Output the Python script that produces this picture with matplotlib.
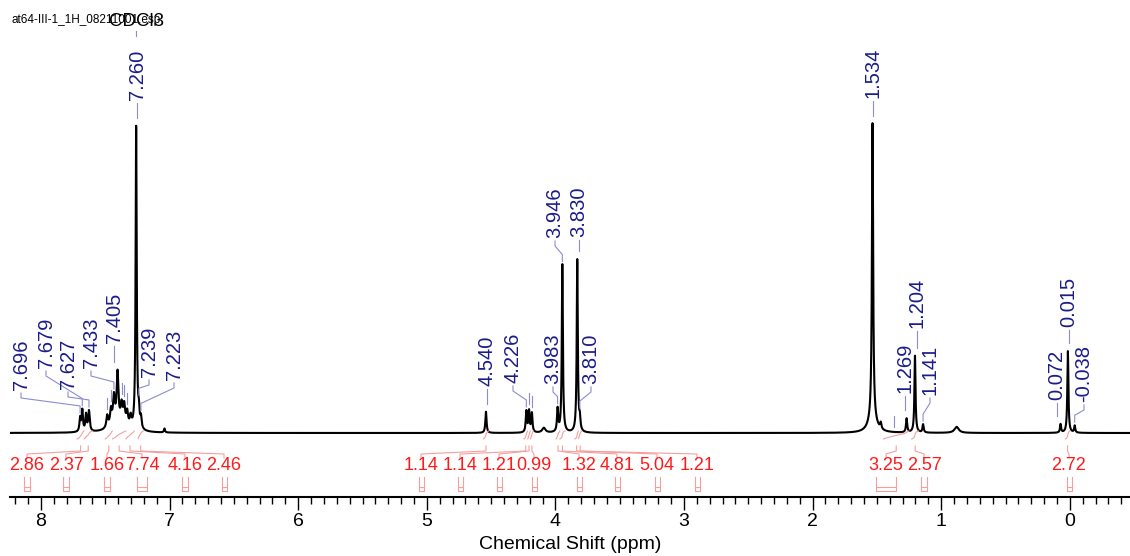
import numpy as np
import matplotlib
matplotlib.use('Agg')
import matplotlib.pyplot as plt

plt.rcParams['font.family'] = ['Liberation Sans', 'DejaVu Sans']

# ---- spectrum peaks ----
# position (ppm), height (% of tallest line), line width (ppm)
peak_ppm = [7.696, 7.679, 7.650, 7.627, 7.485, 7.456, 7.433, 7.405, 7.373, 7.353,
            7.330, 7.303, 7.400, 7.260, 7.239, 7.223, 7.040,
            4.540, 4.226, 4.205, 4.183, 4.090,
            3.983, 3.946, 3.830, 3.810,
            1.534, 1.534, 1.470, 1.269, 1.204, 1.141, 0.880,
            0.072, 0.015, -0.038]
peak_height = [4.5, 7.0, 5.5, 6.8, 4.0, 5.0, 8.5, 15.5, 5.5, 6.0,
               4.5, 3.5, 4.0, 100.0, 5.0, 3.5, 1.3,
               7.0, 7.0, 7.0, 6.3, 1.6,
               7.6, 55.5, 57.0, 3.8,
               98.0, 4.5, 2.0, 4.6, 25.5, 2.7, 2.0,
               2.8, 27.0, 2.3]
peak_width = [0.012, 0.012, 0.012, 0.014, 0.016, 0.016, 0.016, 0.015, 0.016, 0.016,
              0.016, 0.016, 0.120, 0.010, 0.012, 0.012, 0.010,
              0.011, 0.011, 0.011, 0.011, 0.030,
              0.011, 0.010, 0.010, 0.011,
              0.011, 0.070, 0.012, 0.011, 0.010, 0.011, 0.040,
              0.010, 0.010, 0.010]

# labelled peaks
label_ppm = [7.696, 7.679, 7.627, 7.433, 7.405, 7.260, 7.239, 7.223,
             4.540, 4.226, 3.983, 3.946, 3.830, 3.810,
             1.534, 1.269, 1.204, 1.141, 0.072, 0.015, -0.038]
# peaks whose label is hidden (only the leader stub shows)
hidden_ppm = [7.485, 7.456, 7.373, 7.353, 7.330, 4.205, 4.183, 1.367]

# integrals
int_value = [2.86, 2.37, 1.66, 7.74, 4.16, 2.46,
             1.14, 1.14, 1.21, 0.99, 1.32, 4.81, 5.04, 1.21,
             3.25, 2.57, 2.72]
int_from = [7.720, 7.665, 7.500, 7.445, 7.340, 7.245,
            4.560, 4.245, 4.215, 4.195, 3.995, 3.965, 3.850, 3.820,
            1.450, 1.230, 0.035]
int_to = [7.665, 7.600, 7.445, 7.340, 7.275, 7.205,
          4.520, 4.215, 4.195, 4.170, 3.965, 3.925, 3.820, 3.795,
          1.250, 1.175, 0.000]

# ---- layout (pixel positions of the annotations) ----
label_x = [21, 46, 68, 91, 114, 137, 149, 174,
           487, 513, 553, 555, 579, 591,
           873, 905, 917, 930, 1057, 1069, 1084]
label_bottom = [390, 368, 389, 368, 343, 100, 377, 380,
                386, 383, 384, 238, 237, 384,
                98, 393, 328, 395, 400, 327, 402]
int_label_x = [27, 66, 107, 142, 185, 224,
               421, 460, 499, 534, 579, 617, 657, 697,
               886, 924, 1069]

W, H = 1130, 556
BASE, SCALE = 433, 303


def PX(x):
    return 8 - (x - 41) / 128.6


def PY(y):
    return (BASE - y) / SCALE


def XP(ppm):
    return 41 + (8 - ppm) * 128.6


ppm = np.linspace(8.3, -0.5, 12000)
spec = np.zeros_like(ppm)
for p, h, w in zip(peak_ppm, peak_height, peak_width):
    spec += h / 100 / (1 + ((ppm - p) / (w / 2)) ** 2)


def spec_at(p):
    return np.interp(-p, -ppm, spec)


fig = plt.figure(figsize=(W / 100, H / 100), dpi=100)
ax = fig.add_axes([10 / W, (H - 497) / H, 1120 / W, 497 / H])
ax.set_xlim(PX(10), PX(1130))
ax.set_ylim(PY(497), PY(0))

ax.plot(ppm, spec, color='black', lw=1.5)

blue = '#1c1c8a'
blue_line = '#8c8cd0'
red = '#ff1a1a'
pink = '#f4a0a0'

# peak labels with leader lines
for p, lx, lb in zip(label_ppm, label_x, label_bottom):
    ax.text(PX(lx), PY(lb), f'{p:.3f}', rotation=90, ha='center', va='bottom',
            fontsize=14.5, color=blue)
    px = XP(p)
    top = BASE - spec_at(p) * SCALE
    if abs(px - lx) < 4:
        xs = [lx, lx]
        ys = [lb + 3, top - 8]
    else:
        xs = [lx, lx, px, px]
        ys = [lb + 3, lb + 8, top - 10, top - 3]
    ax.plot([PX(v) for v in xs], [PY(v) for v in ys], color=blue_line, lw=0.8)

for p in hidden_ppm:
    top = BASE - spec_at(p) * SCALE
    ax.plot([p, p], [PY(top - 16), PY(top - 5)], color=blue_line, lw=0.8)

# integrals
for v, a, b, lx in zip(int_value, int_from, int_to, int_label_x):
    m = (ppm <= a) & (ppm >= b)
    cum = np.cumsum(spec[m] + 0.01)
    cum = cum / cum[-1]
    ax.plot(ppm[m], PY(439 - 8 * cum), color=pink, lw=0.8)
    rx = (XP(a) + XP(b)) / 2
    ax.plot([PX(lx), PX(lx), PX(rx), PX(rx)], [PY(458), PY(454), PY(451), PY(446)],
            color=pink, lw=0.8)
    ax.text(PX(lx), PY(466), f'{v:.2f}', ha='center', va='center',
            fontsize=13, color=red)
    bw = max(5, 0.75 * (XP(b) - XP(a)))
    l, r = PX(lx - bw / 2), PX(lx + bw / 2)
    ax.plot([l, l, r, r], [PY(477), PY(491), PY(491), PY(477)], color=pink, lw=0.8)
    ax.plot([l, r], [PY(487), PY(487)], color=pink, lw=0.8)

# solvent tag and file name
ax.text(7.260, PY(21), 'CDCl3', ha='center', va='center', fontsize=13.5, color='black')
ax.plot([7.260, 7.260], [PY(31), PY(36)], color=blue_line, lw=0.8)
fig.text(12 / W, 1 - 20 / H, 'at64-III-1_1H_08211001.esp', ha='left', va='center',
         fontsize=8.5, color='black', zorder=0)

for s in ['left', 'right', 'top']:
    ax.spines[s].set_visible(False)
ax.spines['bottom'].set_linewidth(1.5)
ax.set_yticks([])
ax.set_xticks(np.arange(0, 9, 1))
ax.set_xticks(np.arange(-0.4, 8.25, 0.1), minor=True)
ax.tick_params(axis='x', which='major', length=9.5, width=1.0, pad=2, labelsize=14)
ax.tick_params(axis='x', which='minor', length=5, width=1.0)
ax.set_xlabel('Chemical Shift (ppm)', fontsize=14, labelpad=4)

fig.savefig('out.png', dpi=100)
